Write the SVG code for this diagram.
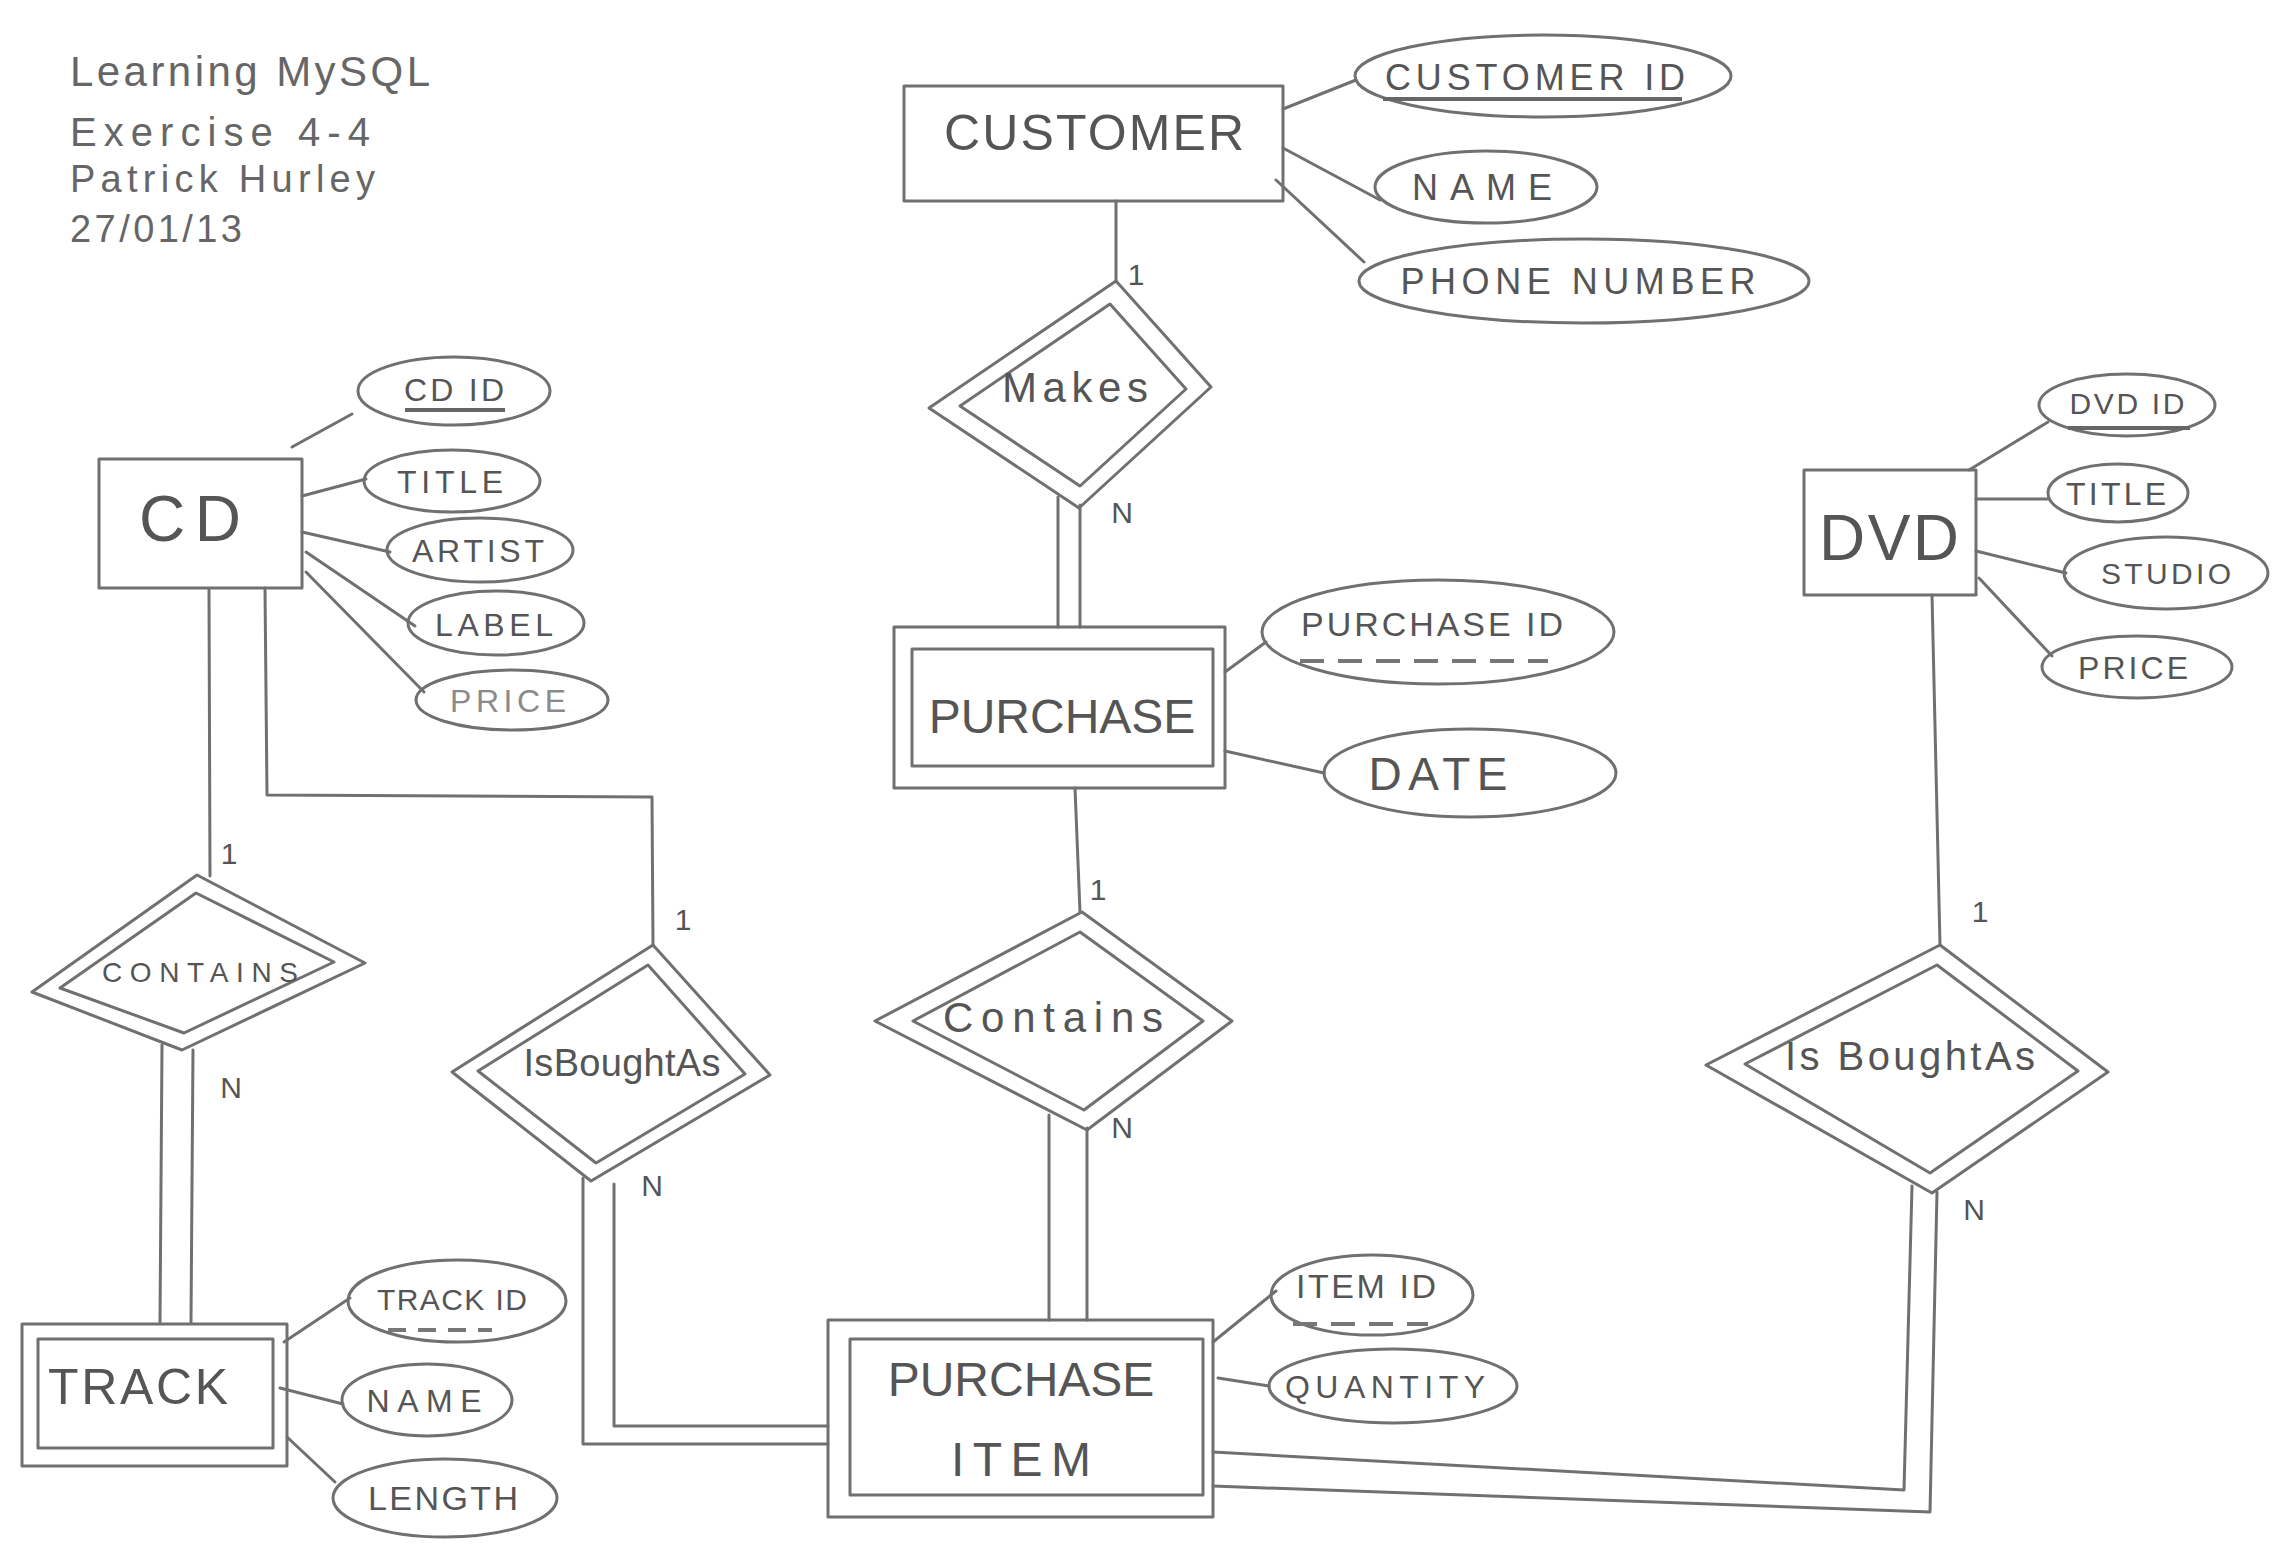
<svg xmlns="http://www.w3.org/2000/svg" width="2287" height="1558" viewBox="0 0 2287 1558">
<style>
.bg{fill:#ffffff}
.sh{fill:none;stroke:#707070;stroke-width:3;stroke-linejoin:round}
.ln{fill:none;stroke:#707070;stroke-width:3;stroke-linejoin:round;stroke-linecap:round}
.t{font-family:"Liberation Sans",Arial,sans-serif;fill:#555555;text-anchor:middle}
.h{font-family:"Liberation Sans",Arial,sans-serif;fill:#666666}
.c{font-family:"Liberation Sans",Arial,sans-serif;fill:#555555;font-size:30px;text-anchor:middle}
.ul{fill:none;stroke:#666666;stroke-width:4}
.du{fill:none;stroke:#777777;stroke-width:4;stroke-dasharray:24 14}
</style>
<rect class="bg" x="0" y="0" width="2287" height="1558"/>

<g id="title">
<text class="h" x="70" y="86" font-size="42" textLength="360">Learning MySQL</text>
<text class="h" x="70" y="146" font-size="40" textLength="300">Exercise 4-4</text>
<text class="h" x="70" y="192" font-size="38" textLength="305">Patrick Hurley</text>
<text class="h" x="70" y="242" font-size="38" textLength="172">27/01/13</text>
</g>

<g id="connectors">
<line class="ln" x1="1283" y1="109" x2="1356" y2="80"/>
<line class="ln" x1="1283" y1="148" x2="1380" y2="200"/>
<line class="ln" x1="1276" y1="180" x2="1364" y2="262"/>
<line class="ln" x1="1116" y1="201" x2="1116" y2="281"/>
<line class="ln" x1="1058" y1="497" x2="1058" y2="627"/>
<line class="ln" x1="1080" y1="505" x2="1080" y2="627"/>
<line class="ln" x1="1225" y1="672" x2="1266" y2="642"/>
<line class="ln" x1="1225" y1="751" x2="1324" y2="773"/>
<line class="ln" x1="1075" y1="788" x2="1080" y2="912"/>
<line class="ln" x1="1049" y1="1115" x2="1049" y2="1320"/>
<line class="ln" x1="1087" y1="1128" x2="1087" y2="1320"/>
<line class="ln" x1="1213" y1="1342" x2="1276" y2="1291"/>
<line class="ln" x1="1218" y1="1378" x2="1269" y2="1386"/>
<line class="ln" x1="292" y1="447" x2="352" y2="414"/>
<line class="ln" x1="302" y1="496" x2="366" y2="479"/>
<line class="ln" x1="302" y1="532" x2="390" y2="552"/>
<line class="ln" x1="306" y1="552" x2="415" y2="626"/>
<line class="ln" x1="306" y1="572" x2="424" y2="692"/>
<line class="ln" x1="209" y1="590" x2="210" y2="876"/>
<polyline class="ln" points="265,588 267,795 652,797 653,945"/>
<line class="ln" x1="162" y1="1045" x2="160" y2="1322"/>
<line class="ln" x1="193" y1="1050" x2="191" y2="1322"/>
<line class="ln" x1="284" y1="1342" x2="350" y2="1298"/>
<line class="ln" x1="280" y1="1388" x2="343" y2="1404"/>
<line class="ln" x1="287" y1="1437" x2="335" y2="1482"/>
<polyline class="ln" points="583,1178 583,1444 828,1444"/>
<polyline class="ln" points="614,1184 614,1426 828,1426"/>
<line class="ln" x1="1969" y1="470" x2="2048" y2="422"/>
<line class="ln" x1="1976" y1="499" x2="2049" y2="499"/>
<line class="ln" x1="1976" y1="551" x2="2066" y2="573"/>
<line class="ln" x1="1979" y1="578" x2="2052" y2="656"/>
<line class="ln" x1="1932" y1="595" x2="1940" y2="945"/>
<polyline class="ln" points="1912,1186 1904,1490 1213,1452"/>
<polyline class="ln" points="1937,1192 1930,1512 1213,1486"/>
</g>

<g id="customer">
<rect class="sh" x="904" y="86" width="379" height="115"/>
<text class="t" x="1094" y="150" font-size="50" textLength="300">CUSTOMER</text>
</g>
<g id="customer-id">
<ellipse class="sh" cx="1543" cy="76" rx="188" ry="41"/>
<text class="t" x="1535" y="90" font-size="36" textLength="300">CUSTOMER ID</text>
<line class="ul" x1="1383" y1="99" x2="1682" y2="99"/>
</g>
<g id="customer-name">
<ellipse class="sh" cx="1486" cy="187" rx="111" ry="36"/>
<text class="t" x="1482" y="200" font-size="36" textLength="140">NAME</text>
</g>
<g id="customer-phone">
<ellipse class="sh" cx="1584" cy="281" rx="225" ry="42"/>
<text class="t" x="1578" y="294" font-size="36" textLength="355">PHONE NUMBER</text>
</g>

<g id="makes">
<polygon class="sh" points="1116,281 1211,387 1079,508 929,408"/>
<polygon class="sh" points="1110,304 1186,389 1080,486 960,406"/>
<text class="t" x="1075" y="402" font-size="42" textLength="146">Makes</text>
</g>

<g id="purchase">
<rect class="sh" x="894" y="627" width="331" height="161"/>
<rect class="sh" x="912" y="649" width="301" height="117"/>
<text class="t" x="1062" y="733" font-size="48">PURCHASE</text>
</g>
<g id="purchase-id">
<ellipse class="sh" cx="1438" cy="632" rx="176" ry="52"/>
<text class="t" x="1432" y="636" font-size="34" textLength="262">PURCHASE ID</text>
<line class="du" x1="1300" y1="661" x2="1548" y2="661"/>
</g>
<g id="purchase-date">
<ellipse class="sh" cx="1470" cy="773" rx="146" ry="44"/>
<text class="t" x="1438" y="790" font-size="46" textLength="139">DATE</text>
</g>

<g id="contains-purchase">
<polygon class="sh" points="1082,912 1232,1021 1087,1130 875,1021"/>
<polygon class="sh" points="1080,932 1203,1021 1084,1110 913,1021"/>
<text class="t" x="1053" y="1032" font-size="42" textLength="220">Contains</text>
</g>

<g id="purchase-item">
<rect class="sh" x="828" y="1320" width="385" height="197"/>
<rect class="sh" x="850" y="1339" width="353" height="156"/>
<text class="t" x="1021" y="1396" font-size="48">PURCHASE</text>
<text class="t" x="1021" y="1476" font-size="48" textLength="140">ITEM</text>
</g>
<g id="item-id">
<ellipse class="sh" cx="1372" cy="1295" rx="101" ry="40"/>
<text class="t" x="1366" y="1298" font-size="34" textLength="140">ITEM ID</text>
<line class="du" x1="1293" y1="1324" x2="1428" y2="1324"/>
</g>
<g id="quantity">
<ellipse class="sh" cx="1393" cy="1386" rx="124" ry="37"/>
<text class="t" x="1385" y="1398" font-size="32" textLength="200">QUANTITY</text>
</g>

<g id="cd">
<rect class="sh" x="99" y="459" width="203" height="129"/>
<text class="t" x="190" y="541" font-size="64" textLength="102">CD</text>
</g>
<g id="cd-id">
<ellipse class="sh" cx="454" cy="391" rx="96" ry="34"/>
<text class="t" x="454" y="401" font-size="32" textLength="100">CD ID</text>
<line class="ul" x1="405" y1="410" x2="505" y2="410"/>
</g>
<g id="cd-title">
<ellipse class="sh" cx="452" cy="481" rx="88" ry="31"/>
<text class="t" x="450" y="493" font-size="32" textLength="106">TITLE</text>
</g>
<g id="cd-artist">
<ellipse class="sh" cx="480" cy="550" rx="93" ry="32"/>
<text class="t" x="478" y="562" font-size="32" textLength="132">ARTIST</text>
</g>
<g id="cd-label">
<ellipse class="sh" cx="496" cy="623" rx="88" ry="32"/>
<text class="t" x="494" y="636" font-size="32" textLength="118">LABEL</text>
</g>
<g id="cd-price">
<ellipse class="sh" cx="512" cy="700" rx="96" ry="30"/>
<text class="t" x="508" y="712" font-size="32" textLength="116" style="fill:#8a8a8a">PRICE</text>
</g>

<g id="contains-cd">
<polygon class="sh" points="197,875 365,963 182,1050 32,992"/>
<polygon class="sh" points="196,893 334,962 184,1033 60,988"/>
<text class="t" x="200" y="982" font-size="28" textLength="196">CONTAINS</text>
</g>

<g id="track">
<rect class="sh" x="22" y="1324" width="265" height="142"/>
<rect class="sh" x="38" y="1339" width="235" height="109"/>
<text class="t" x="138" y="1404" font-size="50" textLength="180">TRACK</text>
</g>
<g id="track-id">
<ellipse class="sh" cx="457" cy="1301" rx="109" ry="41"/>
<text class="t" x="452" y="1310" font-size="30" textLength="150">TRACK ID</text>
<line class="du" x1="388" y1="1330" x2="492" y2="1330" style="stroke-dasharray:18 12"/>
</g>
<g id="track-name">
<ellipse class="sh" cx="427" cy="1400" rx="85" ry="36"/>
<text class="t" x="424" y="1412" font-size="32" textLength="115">NAME</text>
</g>
<g id="track-length">
<ellipse class="sh" cx="445" cy="1498" rx="112" ry="39"/>
<text class="t" x="443" y="1510" font-size="34" textLength="150">LENGTH</text>
</g>

<g id="isboughtas-cd">
<polygon class="sh" points="653,945 770,1075 591,1181 452,1072"/>
<polygon class="sh" points="648,965 745,1074 596,1163 478,1071"/>
<text class="t" x="622" y="1076" font-size="38" textLength="197">IsBoughtAs</text>
</g>

<g id="dvd">
<rect class="sh" x="1804" y="470" width="172" height="125"/>
<text class="t" x="1889" y="560" font-size="64" textLength="140">DVD</text>
</g>
<g id="dvd-id">
<ellipse class="sh" cx="2127" cy="405" rx="88" ry="31"/>
<text class="t" x="2127" y="414" font-size="30" textLength="115">DVD ID</text>
<line class="ul" x1="2068" y1="428" x2="2190" y2="428"/>
</g>
<g id="dvd-title">
<ellipse class="sh" cx="2118" cy="493" rx="70" ry="29"/>
<text class="t" x="2116" y="505" font-size="32" textLength="100">TITLE</text>
</g>
<g id="dvd-studio">
<ellipse class="sh" cx="2166" cy="573" rx="102" ry="36"/>
<text class="t" x="2166" y="584" font-size="30" textLength="130">STUDIO</text>
</g>
<g id="dvd-price">
<ellipse class="sh" cx="2137" cy="667" rx="95" ry="31"/>
<text class="t" x="2133" y="679" font-size="32" textLength="110">PRICE</text>
</g>

<g id="isboughtas-dvd">
<polygon class="sh" points="1940,945 2108,1072 1932,1193 1706,1065"/>
<polygon class="sh" points="1937,965 2078,1071 1930,1173 1745,1064"/>
<text class="t" x="1910" y="1070" font-size="40" textLength="250">Is BoughtAs</text>
</g>

<g id="cardinalities">
<text class="c" x="1136" y="285">1</text>
<text class="c" x="1122" y="523">N</text>
<text class="c" x="1098" y="900">1</text>
<text class="c" x="1122" y="1138">N</text>
<text class="c" x="229" y="864">1</text>
<text class="c" x="231" y="1098">N</text>
<text class="c" x="683" y="930">1</text>
<text class="c" x="652" y="1196">N</text>
<text class="c" x="1980" y="922">1</text>
<text class="c" x="1974" y="1220">N</text>
</g>
</svg>
